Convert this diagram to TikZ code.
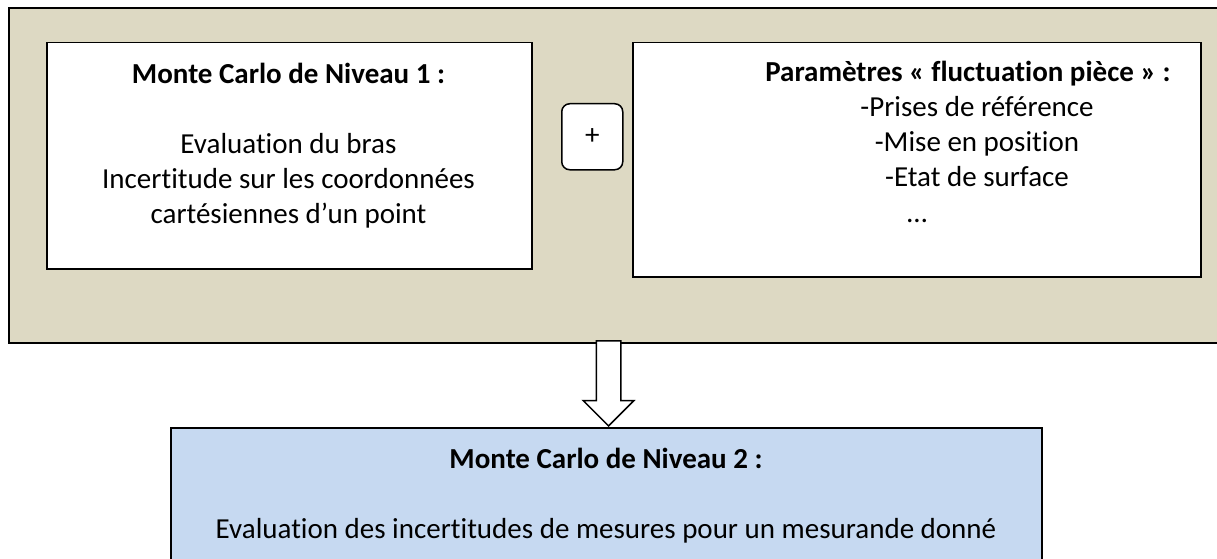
\documentclass[tikz,border=0pt]{standalone}
\usepackage{fontspec}
\setmainfont{Carlito}[Ligatures={NoCommon}]
\usetikzlibrary{positioning,shapes.arrows,calc}

\definecolor{framefill}{HTML}{DDD9C3}
\definecolor{resultfill}{HTML}{C6D9F1}

\tikzset{
  box/.style={draw, line width=1.5pt, fill=white, inner sep=0pt, anchor=north west},
  txt/.style={align=center, inner sep=0pt, font=\fontsize{29}{35}\selectfont},
}

\begin{document}
\begin{tikzpicture}[x=1pt,y=-1pt]
  \useasboundingbox (0,0) rectangle (1217,559);

  % frame around the first level
  \node[box, fill=framefill, line width=2pt, minimum width=1240pt, minimum height=335pt] (frame) at (8,7) {};

  \node[box, minimum width=485pt, minimum height=226pt] (mc1) at (46,42) {};
  \node[txt, anchor=north] (mc1text) at (288.5,63)
    {\textbf{Monte Carlo de Niveau 1 :}\\[35pt]Evaluation du bras\\Incertitude sur les coordonnées\\cartésiennes d’un point};

  \node[box, rounded corners=8pt, minimum width=61pt, minimum height=66pt] (plus) at (561,103) {};
  \node[txt] (plussign) at (plus) {+};

  \node[box, minimum width=568pt, minimum height=234pt] (param) at (632,42) {};
  \node[txt, anchor=north] (paramtitle) at (968,61) {\textbf{Paramètres « fluctuation pièce » :}};
  \node[txt, anchor=north] (paramlist) at (977,96) {-Prises de référence\\-Mise en position\\-Etat de surface};
  \node[txt, anchor=base] (paramdots) at (917,222) {…};

  % second level
  \node[box, fill=resultfill, line width=2pt, minimum width=871pt, minimum height=150pt] (mc2) at (170,427) {};
  \node[txt, anchor=north] (mc2text) at (606,448)
    {\textbf{Monte Carlo de Niveau 2 :}\\[35pt]Evaluation des incertitudes de mesures pour un mesurande donné};

  % block arrow from the frame down to the second level
  \node[draw, fill=white, line width=1.5pt, single arrow, shape border rotate=270, inner sep=11.5pt,
        minimum height=85pt, single arrow head extend=13pt, anchor=tip] (down)
    at ([xshift=2pt]mc2.north) {};
\end{tikzpicture}
\end{document}
